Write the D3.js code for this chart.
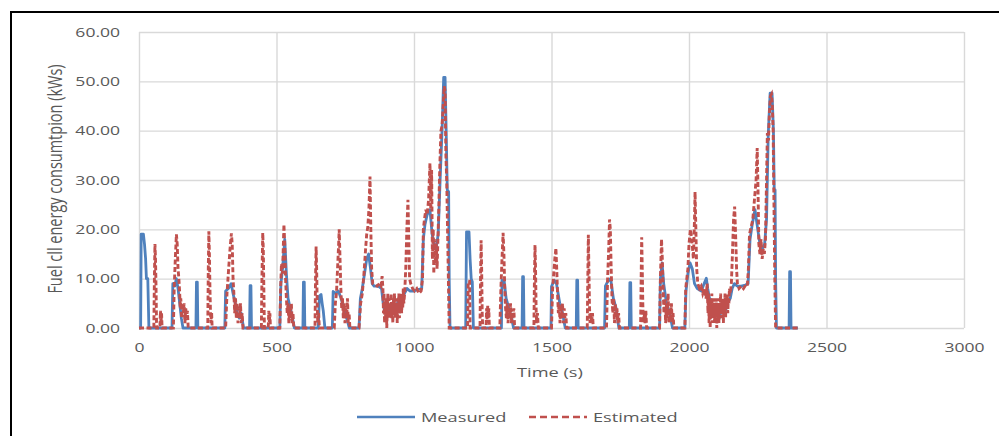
<!DOCTYPE html>
<html>
<head>
<meta charset="utf-8">
<script src="https://cdn.jsdelivr.net/npm/d3@7"></script>
<style>
  html, body { margin: 0; padding: 0; background: #fff; }
  svg { display: block; }
</style>
</head>
<body>
<div id="chart"></div>
<script>
// axis ticks
const xTicks = [0, 500, 1000, 1500, 2000, 2500, 3000];
const yTicks = [0, 10, 20, 30, 40, 50, 60];
const seriesNames = ['Measured', 'Estimated'];

// measured fuel cell energy [time (s), kWs]
const measured = [
  [0,0],[6,0],[8,19],[16,19],[20,17],[24,14],[27,10],[32,10],[36,0],
  [120,0],[123,9],[130,8.5],[136,10],[142,8],[148,5],[154,2],[160,0],
  [207,0],[209,9.3],[212,9.3],[214,0],
  [312,0],[315,7.5],[325,8],[335,9],[342,7],[350,5],[358,3],[365,2],[372,3],[380,0],
  [402,0],[404,8.6],[407,8.6],[409,0],
  [512,0],[516,9],[522,12],[530,18],[536,11],[542,6],[550,4],[558,2],[565,0],
  [596,0],[598,9.3],[601,9.3],[603,0],
  [652,0],[656,6.5],[662,6.8],[666,5],[670,3.5],[676,0],
  [703,0],[706,7.4],[715,7],[725,7.5],[735,6],[745,4],[755,2],[765,0],
  [800,0],[805,6],[812,8],[820,11],[828,14],[835,15],[842,12],[848,9],[855,8.5],[870,8.5],[882,8],
  [888,5],[895,3],[905,4],[915,3],[925,5],[935,4],[945,6],[955,5],[965,7],[975,8],[985,7.5],
  [1000,7.5],[1015,7.8],[1028,8],[1034,18],[1040,21],[1048,23],[1058,24],[1066,19],[1072,17],
  [1080,16],[1088,19],[1095,30],[1102,40],[1108,50.8],[1113,50.8],[1117,40],[1121,28],[1126,27.6],
  [1128,10],[1131,0],
  [1188,0],[1191,19.5],[1200,19.5],[1204,14],[1208,10],[1212,9.4],[1216,0],
  [1318,0],[1320,9.7],[1328,9.5],[1335,6],[1345,4],[1355,2],[1362,0],
  [1393,0],[1395,10.4],[1398,10.4],[1400,0],
  [1498,0],[1500,8.4],[1510,9.7],[1518,9],[1530,5],[1540,3],[1550,0],
  [1590,0],[1592,9.7],[1595,9.7],[1597,0],
  [1693,0],[1696,8.5],[1705,9.5],[1715,10],[1725,6],[1735,4],[1745,0],
  [1783,0],[1785,9.2],[1788,9.2],[1790,0],
  [1893,0],[1896,10],[1902,13.2],[1908,9],[1918,5],[1930,3],[1940,0],
  [1985,0],[1989,7.4],[1996,11],[2004,13.2],[2012,12],[2020,9],[2030,8],[2045,7.5],[2055,9],
  [2063,10.1],[2068,8],[2078,5],[2090,3],[2100,4],[2110,2],[2120,4],[2130,3],[2140,5],[2150,6],
  [2157,8],[2165,9],[2175,8.5],[2190,8.5],[2205,8.7],[2215,9],[2222,18],[2230,21],[2240,24],
  [2250,20],[2258,17],[2266,16],[2275,17],[2282,22],[2288,39],[2295,47.6],[2302,47.6],[2307,40],
  [2310,28],[2313,28],[2315,10],[2318,0],
  [2364,0],[2366,11.4],[2369,11.4],[2371,0],[2396,0]
];

// estimated fuel cell energy [time (s), kWs]
const estimated = [
  [0,0],[54,0],[56,10],[58,17],[60,14],[62,8],[64,0],[76,0],[78,3.5],[80,1],[82,3],[84,0],
  [125,0],[128,8],[132,14],[136,19],[139,17],[142,12],[145,10],[148,7],[150,4],[152,6],[155,2],
  [158,5],[161,3],[164,5],[167,1],[170,4],[173,2],[176,3.5],[179,0],
  [250,0],[252,12],[254,19.6],[256,15],[258,8],[260,3],[262,1],[264,3.2],[266,0],
  [315,0],[320,7],[326,12],[331,16],[336,19.2],[339,17],[342,10],[345,7],[348,3],[351,6],[354,2],
  [357,5],[360,1],[363,4],[366,2],[369,5],[372,1],[375,3],[378,0],
  [445,0],[447,10],[450,19.3],[452,16],[454,8],[456,0],[470,0],[472,3.5],[474,1],[476,3],[478,0],
  [512,0],[515,8],[518,13],[522,11],[525,17],[527,21],[530,17],[533,10],[536,6],[539,3],[542,5],
  [545,1],[548,4],[551,2],[554,5],[557,1],[560,3],[563,0],
  [640,0],[642,10],[644,16.5],[646,12],[648,5],[650,1],[653,3],[656,0],
  [710,0],[714,5],[718,7],[722,12],[726,17],[728,20],[731,14],[734,8],[737,4],[740,6],[743,2],
  [746,5],[749,1],[752,4],[755,2],[758,6],[761,1],[764,3],[767,0],
  [800,0],[806,5],[812,7],[818,11],[824,16],[828,19],[832,20.5],[836,24],[840,30.7],[843,20],
  [846,12],[850,9],[858,8.8],[866,8.5],[874,9],[880,8.5],[884,10.5],[887,8],[889,3],[891,7],
  [893,1],[895,5],[897,2],[899,6],[901,0],[903,4],[905,7],[907,3],[909,6],[911,2],[913,5],[915,3],
  [917,7],[919,2],[921,5],[923,1],[925,6],[927,3],[929,7],[931,2],[933,5],[935,3],[937,6],[939,1],
  [941,5],[943,3],[945,7],[947,2],[949,5],[951,4],[953,7],[955,3],[957,6],[959,4],[961,8],[963,5],
  [966,7],[970,12],[974,20],[978,26],[981,18],[984,10],[988,9],[995,8],[1002,7.5],[1010,8],
  [1018,7],[1026,7.5],[1031,10],[1034,20],[1038,22],[1043,24],[1048,23],[1053,26],[1058,33.4],
  [1061,24],[1064,32],[1067,14],[1070,20],[1072,11],[1075,18],[1078,13],[1081,17],[1084,12],
  [1087,18],[1090,24],[1094,33],[1098,40],[1102,41],[1106,45],[1110,49],[1113,48],[1116,35],
  [1119,30],[1122,20],[1125,10],[1128,0],
  [1195,0],[1197,9.5],[1202,9.5],[1204,0],
  [1240,0],[1242,10],[1244,17.8],[1246,12],[1248,3],[1250,0],
  [1262,0],[1264,4],[1266,1],[1268,4.5],[1270,2],[1272,4],[1274,0],
  [1312,0],[1316,8],[1320,14],[1324,19.3],[1327,15],[1330,8],[1333,4],[1336,2],[1339,5],[1342,1],
  [1345,4],[1348,2],[1351,5],[1354,1],[1357,3],[1360,2],[1363,4],[1366,0],
  [1436,0],[1438,10],[1440,16.8],[1442,12],[1444,4],[1446,1],[1449,3],[1452,0],
  [1500,0],[1504,8],[1508,11],[1512,14],[1516,16.2],[1519,12],[1522,7],[1525,3],[1528,5],[1531,1],
  [1534,4],[1537,2],[1540,5],[1543,1],[1546,4],[1549,2],[1552,3],[1555,0],
  [1630,0],[1632,10],[1634,18.9],[1636,12],[1638,5],[1640,1],[1643,3],[1646,1],[1649,3],[1652,0],
  [1700,0],[1704,10],[1708,16],[1711,22],[1714,20],[1717,12],[1720,6],[1723,3],[1726,6],[1729,1],
  [1732,5],[1735,2],[1738,4],[1741,1],[1744,3],[1747,0],
  [1824,0],[1826,10],[1828,18.4],[1830,12],[1832,5],[1834,1],[1837,3],[1840,1],[1843,3.5],[1846,0],
  [1893,0],[1896,10],[1900,18],[1903,14],[1906,8],[1909,3],[1912,6],[1915,1],[1918,5],[1921,2],
  [1924,7],[1927,1],[1930,4],[1933,2],[1936,5],[1939,1],[1942,3],[1945,0],
  [1985,0],[1988,8],[1992,10],[1996,12],[2000,17],[2005,20],[2010,18],[2016,14],[2020,22],
  [2022,27.6],[2025,20],[2028,12],[2032,9],[2038,8],[2044,8.5],[2050,7],[2056,8],[2062,6],[2066,9],
  [2069,3],[2071,7],[2073,1],[2075,6],[2077,0],[2079,5],[2081,2],[2083,7],[2085,1],[2087,5],[2089,3],
  [2091,6],[2093,1],[2095,4],[2097,2],[2099,6],[2101,0],[2103,5],[2105,2],[2107,6],[2109,1],[2111,5],
  [2113,3],[2115,7],[2117,2],[2119,5],[2121,3],[2123,6],[2125,1],[2127,5],[2129,3],[2131,7],[2133,2],
  [2135,6],[2137,4],[2139,7],[2141,3],[2143,6],[2145,5],[2147,8],[2150,7],[2154,9],[2158,15],
  [2162,22],[2166,24.6],[2170,18],[2173,12],[2176,9],[2182,8],[2190,8.5],[2198,8],[2206,8.7],
  [2212,8.5],[2216,12],[2220,19],[2226,20.5],[2232,22],[2238,26],[2244,30],[2248,36.5],[2251,28],
  [2254,17],[2258,15],[2262,18],[2266,14],[2270,16],[2274,15],[2278,18],[2282,30],[2285,39.5],
  [2289,38],[2292,43],[2296,47],[2300,47.4],[2303,45],[2306,40],[2309,25],[2312,10],[2315,0],
  [2396,0]
];

const W = 999, H = 436;
const margin = {top: 32, right: 35, bottom: 108, left: 139};
const plotW = W - margin.left - margin.right,
      plotH = H - margin.top - margin.bottom;
const stretch = 1.35;   // the original picture is stretched sideways
const textCol = '#595959';
const colours = ['#4F81BD', '#C0504D'];

const svg = d3.select('#chart').append('svg')
  .attr('width', W)
  .attr('height', H);

svg.append('rect')
  .attr('x', 11).attr('y', 12)
  .attr('width', 1100).attr('height', 600)
  .attr('fill', 'none')
  .attr('stroke', '#000')
  .attr('stroke-width', 2);

const x = d3.scaleLinear().domain([0, 3000]).range([margin.left, margin.left + plotW]);
const y = d3.scaleLinear().domain([0, 60]).range([margin.top + plotH, margin.top]);

// gridlines + tick labels
const yAxisGroup = svg.append('g')
  .attr('transform', 'translate(' + margin.left + ',0)')
  .call(d3.axisLeft(y).tickValues(yTicks).tickSize(-plotW).tickPadding(14)
    .tickFormat(d3.format('.2f')));

const xAxisGroup = svg.append('g')
  .attr('transform', 'translate(0,' + (margin.top + plotH) + ')')
  .call(d3.axisBottom(x).tickValues(xTicks).tickSize(-plotH).tickPadding(15)
    .tickFormat(d => d));

[yAxisGroup, xAxisGroup].forEach(g => {
  g.select('.domain').remove();
  g.selectAll('.tick line').attr('stroke', '#d9d9d9').attr('stroke-width', 1.4);
  g.selectAll('.tick text')
    .attr('font-family', 'Open Sans')
    .attr('font-size', 13)
    .attr('fill', textCol)
    .attr('transform', 'scale(' + stretch + ',1)');
});
yAxisGroup.selectAll('.tick text').attr('x', -14);

// series
const line = d3.line()
  .x(d => x(d[0]))
  .y(d => y(d[1]));

svg.append('path')
  .datum(measured)
  .attr('d', line)
  .attr('fill', 'none')
  .attr('stroke', colours[0])
  .attr('stroke-width', 2.8)
  .attr('stroke-linejoin', 'round');

svg.append('path')
  .datum(estimated)
  .attr('d', line)
  .attr('fill', 'none')
  .attr('stroke', colours[1])
  .attr('stroke-width', 2.9)
  .attr('stroke-dasharray', '5,2.5');

// axis titles
svg.append('text')
  .attr('transform', 'translate(550,377) scale(' + stretch + ',1)')
  .attr('text-anchor', 'middle')
  .attr('font-family', 'Open Sans')
  .attr('font-size', 13.5)
  .attr('fill', textCol)
  .text('Time (s)');

svg.append('text')
  .attr('transform', 'translate(62,179) scale(' + stretch + ',1) rotate(-90)')
  .attr('text-anchor', 'middle')
  .attr('font-family', 'Open Sans')
  .attr('font-size', 14.5)
  .attr('fill', textCol)
  .text('Fuel cll energy consumtpion (kWs)');

// legend
const legendX = [357, 529];
const legend = svg.selectAll('.legend')
  .data(seriesNames)
  .enter().append('g')
  .attr('transform', (d, i) => 'translate(' + legendX[i] + ',417)');

legend.append('line')
  .attr('x1', 0).attr('x2', 58)
  .attr('stroke', (d, i) => colours[i])
  .attr('stroke-width', 2.6)
  .attr('stroke-dasharray', (d, i) => i ? '7,4' : null);

legend.append('text')
  .attr('transform', 'translate(64,5) scale(' + stretch + ',1)')
  .attr('font-family', 'Open Sans')
  .attr('font-size', 13.5)
  .attr('fill', textCol)
  .text(d => d);
</script>
</body>
</html>
